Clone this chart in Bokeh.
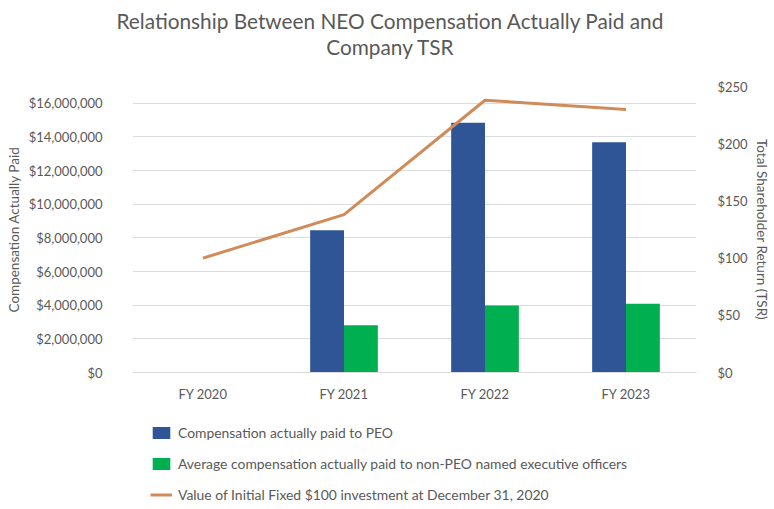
from bokeh.plotting import figure
from bokeh.layouts import column
from bokeh.models import (FactorRange, Range1d, LinearAxis, Legend, LegendItem,
                          Label, NumeralTickFormatter, FixedTicker, ColumnDataSource)
from bokeh.transform import dodge
from bokeh.embed import file_html
from bokeh.resources import INLINE

years = ["FY 2020", "FY 2021", "FY 2022", "FY 2023"]
peo_cap = [float("nan"), 8460000, 14850000, 13680000]
neo_cap = [float("nan"), 2810000, 3980000, 4080000]
tsr = [100, 138, 238, 230]

title_lines = ["Relationship Between NEO Compensation Actually Paid and", "Company TSR"]
legend_labels = ["Compensation actually paid to PEO",
                 "Average compensation actually paid to non-PEO named executive officers",
                 "Value of Initial Fixed $100 investment at December 31, 2020"]
left_ticks = [0, 2e6, 4e6, 6e6, 8e6, 10e6, 12e6, 14e6, 16e6]
right_ticks = [0, 50, 100, 150, 200, 250]

FONT = "Lato"
GRAY = "#595959"
BLUE = "#2F5597"
GREEN = "#00B050"
TAN = "#D08B58"

# ---------- title strip ----------
pt = figure(width=774, height=66, output_backend="svg", toolbar_location=None,
            x_range=Range1d(0, 1), y_range=Range1d(0, 1),
            x_axis_location=None, y_axis_location=None, min_border=0)
pt.frame_align = False
pt.outline_line_color = None
pt.grid.visible = False
for i, t in enumerate(title_lines):
    pt.add_layout(Label(x=390, y=46 - 26 * i, x_units="screen", y_units="screen",
                        text=t, text_align="center", text_baseline="middle",
                        text_font=FONT, text_font_size="20.8px", text_color=GRAY))

# ---------- main chart ----------
p = figure(x_range=FactorRange(*years), y_range=Range1d(0, 17e6),
           width=774, height=342, output_backend="svg", toolbar_location=None,
           min_border_left=132, min_border_right=78, min_border_top=20,
           min_border_bottom=36)
p.extra_y_ranges = {"tsr": Range1d(0, 250)}
p.x_range.range_padding = 0
p.outline_line_color = None

source = ColumnDataSource(dict(years=years, peo=peo_cap, neo=neo_cap, tsr=tsr))

p.vbar(x=dodge("years", -0.12, range=p.x_range), top="peo", width=0.24,
       source=source, fill_color=BLUE, line_color=None)
p.vbar(x=dodge("years", 0.12, range=p.x_range), top="neo", width=0.24,
       source=source, fill_color=GREEN, line_color=None)
p.line(x="years", y="tsr", source=source, y_range_name="tsr",
       line_color=TAN, line_width=3)

p.xgrid.grid_line_color = None
p.ygrid.grid_line_color = "#DCDCDC"
p.ygrid.grid_line_width = 1

ya = p.yaxis[0]
ya.ticker = FixedTicker(ticks=left_ticks)
ya.formatter = NumeralTickFormatter(format="$0,0")
ya.axis_label = "Compensation Actually Paid"
ya.axis_line_color = None
ya.major_tick_line_color = None
ya.minor_tick_line_color = None
ya.major_label_standoff = 24
ya.axis_label_standoff = 4

xa = p.xaxis[0]
xa.axis_line_color = "#DCDCDC"
xa.major_tick_line_color = None
xa.minor_tick_line_color = None
xa.major_label_standoff = 7

ra = LinearAxis(y_range_name="tsr", ticker=FixedTicker(ticks=right_ticks),
                formatter=NumeralTickFormatter(format="$0"),
                axis_label="Total Shareholder Return (TSR)")
ra.axis_line_color = None
ra.major_tick_line_color = None
ra.minor_tick_line_color = None
ra.major_label_standoff = 15
ra.axis_label_standoff = 3
p.add_layout(ra, "right")

for ax in [ya, xa, ra]:
    ax.major_label_text_font = FONT
    ax.major_label_text_font_size = "13px"
    ax.major_label_text_color = GRAY
    ax.axis_label_text_font = FONT
    ax.axis_label_text_font_size = "13.5px"
    ax.axis_label_text_color = GRAY
    ax.axis_label_text_font_style = "normal"

# ---------- legend strip ----------
pl = figure(width=774, height=101, output_backend="svg", toolbar_location=None,
            x_range=Range1d(0, 1), y_range=Range1d(0, 1),
            x_axis_location=None, y_axis_location=None, min_border=0)
pl.frame_align = False
pl.outline_line_color = None
pl.grid.visible = False
empty = ColumnDataSource(dict(x=[float("nan")], y=[float("nan")]))
g1 = pl.vbar(x="x", top="y", width=0.1, source=empty, fill_color=BLUE, line_color=None)
g2 = pl.vbar(x="x", top="y", width=0.1, source=empty, fill_color=GREEN, line_color=None)
g3 = pl.line(x="x", y="y", source=empty, line_color=TAN, line_width=3)

legend = Legend(items=[LegendItem(label=legend_labels[0], renderers=[g1]),
                       LegendItem(label=legend_labels[1], renderers=[g2]),
                       LegendItem(label=legend_labels[2], renderers=[g3])],
                location=(150, 6), orientation="vertical")
legend.border_line_color = None
legend.background_fill_alpha = 0
legend.padding = 0
legend.margin = 0
legend.spacing = 14
legend.glyph_width = 22
legend.glyph_height = 15
legend.label_height = 15
legend.label_standoff = 6
legend.label_text_font = FONT
legend.label_text_font_size = "13.9px"
legend.label_text_color = GRAY
pl.add_layout(legend, "center")

layout = column(pt, p, pl, spacing=0)
open("out.html", "w").write(file_html(layout, INLINE))
